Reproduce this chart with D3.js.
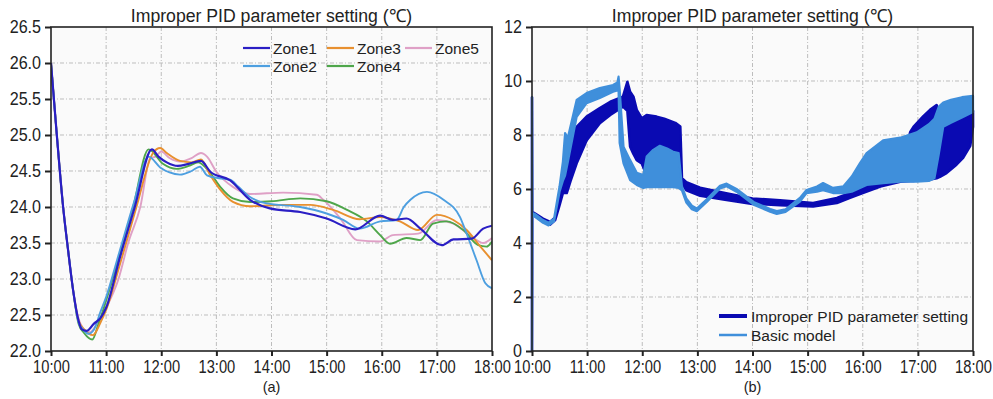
<!DOCTYPE html>
<html><head><meta charset="utf-8">
<script src="https://cdn.jsdelivr.net/npm/d3@7"></script>
<style>
body{margin:0;background:#fff;}
svg{display:block;font-family:"Liberation Sans",Arial,sans-serif;}
</style></head>
<body><svg id="c" width="993" height="399"></svg>
<script>
// ---- data (time in decimal hours) ----
const hourTicks = [10,11,12,13,14,15,16,17,18];
const hourLabels = ["10:00","11:00","12:00","13:00","14:00","15:00","16:00","17:00","18:00"];
const tempTicks = [22.0,22.5,23.0,23.5,24.0,24.5,25.0,25.5,26.0,26.5];
const diffTicks = [0,2,4,6,8,10,12];
const zoneNames = ["Zone1","Zone2","Zone3","Zone4","Zone5"];

const zone1 = [[10.0,26.0],[10.1,25.05],[10.22,24.0],[10.31,23.4],[10.4,22.85],[10.5,22.42],[10.56,22.3],[10.65,22.28],[10.78,22.38],[10.9,22.46],[11.0,22.6],[11.25,23.3],[11.52,24.0],[11.83,24.8],[11.95,24.7],[12.1,24.62],[12.3,24.57],[12.5,24.6],[12.72,24.64],[12.89,24.49],[13.25,24.37],[13.61,24.1],[13.97,23.98],[14.52,23.93],[15.0,23.84],[15.52,23.69],[15.97,23.88],[16.2,23.82],[16.45,23.84],[16.7,23.7],[17.09,23.47],[17.3,23.55],[17.63,23.56],[17.84,23.7],[18.0,23.74]];
const zone2 = [[10.0,26.0],[10.1,25.05],[10.22,24.0],[10.31,23.4],[10.4,22.85],[10.5,22.4],[10.58,22.3],[10.68,22.24],[10.78,22.3],[10.9,22.55],[11.0,22.75],[11.25,23.4],[11.5,24.05],[11.77,24.7],[11.98,24.55],[12.15,24.48],[12.34,24.45],[12.55,24.5],[12.7,24.56],[12.83,24.44],[13.05,24.4],[13.25,24.38],[13.4,24.28],[13.61,24.14],[13.91,24.05],[14.52,24.0],[15.0,23.91],[15.3,23.82],[15.6,23.7],[15.97,23.8],[16.27,23.82],[16.4,24.0],[16.52,24.1],[16.82,24.21],[17.12,24.1],[17.42,23.86],[17.54,23.63],[17.72,23.26],[17.88,22.94],[18.0,22.87]];
const zone3 = [[10.0,26.0],[10.1,25.05],[10.22,24.0],[10.31,23.4],[10.4,22.85],[10.5,22.42],[10.6,22.3],[10.76,22.22],[10.9,22.4],[11.0,22.57],[11.25,23.2],[11.55,24.0],[11.85,24.75],[11.98,24.82],[12.1,24.75],[12.34,24.64],[12.55,24.62],[12.72,24.66],[12.89,24.44],[13.07,24.24],[13.3,24.07],[13.61,24.01],[14.21,24.03],[14.7,24.03],[15.12,23.96],[15.6,23.83],[15.97,23.86],[16.33,23.8],[16.66,23.68],[17.0,23.89],[17.3,23.82],[17.54,23.68],[17.79,23.45],[18.0,23.26]];
const zone4 = [[10.0,26.0],[10.1,25.05],[10.22,24.0],[10.31,23.4],[10.4,22.85],[10.5,22.38],[10.6,22.25],[10.75,22.16],[10.85,22.35],[11.0,22.7],[11.25,23.35],[11.49,24.0],[11.77,24.8],[12.03,24.6],[12.28,24.53],[12.5,24.57],[12.67,24.62],[12.89,24.47],[13.07,24.28],[13.3,24.12],[13.61,24.07],[14.0,24.08],[14.52,24.12],[15.0,24.08],[15.37,23.96],[15.73,23.8],[15.97,23.61],[16.15,23.49],[16.45,23.57],[16.7,23.54],[16.93,23.77],[17.18,23.8],[17.48,23.68],[17.75,23.47],[17.9,23.45],[18.0,23.52]];
const zone5 = [[10.0,26.0],[10.1,25.05],[10.22,24.0],[10.31,23.4],[10.4,22.85],[10.5,22.45],[10.6,22.3],[10.7,22.26],[10.85,22.4],[11.0,22.6],[11.22,22.99],[11.4,23.5],[11.62,24.0],[11.8,24.68],[11.9,24.7],[12.0,24.77],[12.15,24.68],[12.34,24.63],[12.55,24.68],[12.72,24.75],[12.83,24.7],[13.0,24.49],[13.3,24.28],[13.61,24.18],[14.21,24.2],[14.82,24.17],[14.94,24.1],[15.25,23.84],[15.55,23.54],[15.97,23.52],[16.2,23.61],[16.66,23.63],[17.0,23.82],[17.3,23.77],[17.66,23.57],[17.84,23.5],[18.0,23.57]];

// right panel: [time, lower envelope, upper envelope] of the oscillating signal
const improperBand = [[10.0,0,9.4],[10.005,5.15,5.15],[10.05,5.0,5.1],[10.2,4.8,4.9],[10.33,4.68,4.78],[10.42,4.85,4.95],[10.5,5.4,5.6],[10.56,5.85,6.6],[10.63,5.85,7.8],[10.7,6.3,7.9],[10.81,6.95,8.3],[10.99,7.8,8.68],[11.23,8.44,9.0],[11.42,8.74,9.23],[11.65,9.05,9.42],[11.73,8.9,9.97],[11.78,7.57,9.6],[11.84,7.3,9.42],[11.9,7.07,8.93],[11.99,6.95,8.62],[12.08,6.5,8.74],[12.26,6.3,8.68],[12.4,6.2,8.6],[12.6,6.2,8.45],[12.69,6.2,8.31],[12.72,6.2,6.4],[12.8,5.95,6.25],[13.05,5.75,6.05],[13.5,5.6,5.85],[14.0,5.45,5.65],[14.5,5.4,5.58],[15.1,5.35,5.48],[15.53,5.48,5.67],[15.77,5.67,5.85],[16.0,5.85,6.04],[16.32,6.09,6.33],[16.68,6.27,6.46],[16.86,6.3,8.1],[16.92,6.3,8.3],[17.1,6.35,8.7],[17.22,6.35,8.93],[17.34,6.4,9.11],[17.4,6.45,8.4],[17.52,6.59,8.5],[17.7,6.9,8.65],[17.82,7.15,8.75],[17.95,7.6,8.85],[18.0,8.3,8.9]];
const basicBand = [[10.0,0,9.4],[10.005,5.1,5.1],[10.05,4.98,5.08],[10.2,4.75,4.85],[10.3,4.65,4.75],[10.4,4.8,4.9],[10.5,5.9,6.1],[10.56,6.3,7.0],[10.6,6.5,8.07],[10.65,7.0,7.9],[10.81,8.67,9.3],[10.99,9.18,9.55],[11.23,9.37,9.74],[11.47,9.6,9.85],[11.55,9.65,9.95],[11.57,9.7,10.16],[11.59,7.7,9.7],[11.66,6.95,7.57],[11.78,6.33,7.07],[11.9,6.15,6.6],[12.02,6.04,6.52],[12.08,6.07,7.2],[12.2,6.07,7.45],[12.32,6.07,7.6],[12.45,6.07,7.5],[12.56,6.07,7.38],[12.66,6.04,7.33],[12.72,5.95,6.1],[12.8,5.5,5.65],[12.9,5.25,5.38],[12.99,5.18,5.28],[13.17,5.52,5.62],[13.41,6.02,6.12],[13.53,6.1,6.2],[13.71,5.9,6.0],[14.02,5.42,5.52],[14.32,5.16,5.26],[14.44,5.08,5.18],[14.6,5.15,5.25],[14.86,5.53,5.67],[14.98,5.85,5.96],[15.17,5.9,6.09],[15.28,5.96,6.22],[15.46,5.85,6.04],[15.65,5.85,6.1],[15.8,5.9,6.46],[15.95,6.04,6.96],[16.07,6.15,7.33],[16.37,6.22,7.8],[16.68,6.27,7.9],[16.98,6.27,8.1],[17.2,6.3,8.4],[17.3,6.4,8.6],[17.38,7.3,9.05],[17.46,8.3,9.2],[17.6,8.45,9.3],[17.8,8.65,9.4],[18.0,8.85,9.45]];
const bandNames = ["Improper PID parameter setting","Basic model"];
const titleText = "Improper PID parameter setting (\u2103)";

// ---- drawing ----
const svg = d3.select("#c");
const zoneColors = ["#2a1ec4","#4d9fe0","#e8902f","#4ea64a","#dfa0c6"];
const bandColors = ["#0a0ab2","#3f8fdb"];

function squeeze(sel, k) {
  sel.each(function(){
    const w = this.getComputedTextLength();
    d3.select(this).attr("textLength", w*k).attr("lengthAdjust","spacingAndGlyphs");
  });
}

function panel(x0, x1, y0, y1, yDomain, yTicks, yFmt, label) {
  const g = svg.append("g");
  const x = d3.scaleLinear().domain([10,18]).range([x0,x1]);
  const y = d3.scaleLinear().domain(yDomain).range([y1,y0]);
  g.append("rect").attr("x",x0).attr("y",y0).attr("width",x1-x0).attr("height",y1-y0).attr("fill","#fafafa");
  g.append("g").selectAll("line").data(hourTicks.slice(1,-1)).join("line")
    .attr("x1",d=>x(d)).attr("x2",d=>x(d)).attr("y1",y0).attr("y2",y1)
    .attr("stroke","#bdbdbd").attr("stroke-width",1).attr("stroke-dasharray","4,2,1,2");
  g.append("g").selectAll("line").data(yTicks.slice(1,-1)).join("line")
    .attr("y1",d=>y(d)).attr("y2",d=>y(d)).attr("x1",x0).attr("x2",x1)
    .attr("stroke","#bdbdbd").attr("stroke-width",1).attr("stroke-dasharray","4,2,1,2");
  const t = svg.append("text").attr("x",(x0+x1)/2).attr("y",y0-5).attr("text-anchor","middle")
    .attr("font-size",18).attr("fill","#222").text(titleText);
  squeeze(t, 0.98);
  svg.append("text").attr("x",(x0+x1)/2).attr("y",392).attr("text-anchor","middle")
    .attr("font-size",14.5).attr("fill","#222").text(label);
  return {g,x,y,x0,x1,y0,y1,yTicks,yFmt};
}
function axes(p){
  const {g,x,y,x0,x1,y0,y1,yTicks,yFmt} = p;
  const ax = g.append("g").attr("transform",`translate(0,${y1})`)
    .call(d3.axisBottom(x).tickValues(hourTicks).tickFormat((d,i)=>hourLabels[i]).tickSize(5).tickPadding(5));
  const ay = g.append("g").attr("transform",`translate(${x0},0)`)
    .call(d3.axisLeft(y).tickValues(yTicks).tickFormat(yFmt).tickSize(6).tickPadding(4));
  [ax,ay].forEach(a=>{
    a.select(".domain").remove();
    a.selectAll(".tick line").attr("stroke","#222").attr("stroke-width",2);
    a.selectAll(".tick text").attr("font-size",17.5).attr("fill","#222").attr("font-family","Liberation Sans, Arial, sans-serif");
  });
  squeeze(ax.selectAll(".tick text"), 0.84);
  squeeze(ay.selectAll(".tick text"), 0.92);
  g.append("rect").attr("x",x0).attr("y",y0).attr("width",x1-x0).attr("height",y1-y0)
    .attr("fill","none").attr("stroke","#222").attr("stroke-width",1.6);
}

// left panel
const pa = panel(51,492,27,351,[22,26.5],tempTicks,d3.format(".1f"),"(a)");
svg.append("clipPath").attr("id","ca").append("rect").attr("x",51).attr("y",27).attr("width",441).attr("height",324);
const zones = [zone1,zone2,zone3,zone4,zone5];
const lineA = d3.line().x(d=>pa.x(d[0])).y(d=>pa.y(d[1])).curve(d3.curveMonotoneX);
[4,3,2,1,0].forEach(i=>{
  pa.g.append("path").datum(zones[i]).attr("d",lineA).attr("fill","none")
    .attr("stroke",zoneColors[i]).attr("stroke-width",i===0?2.2:1.9).attr("clip-path","url(#ca)");
});
axes(pa);
const legPos = [[243,48],[243,66],[327,48],[327,66],[405,48]];
zoneNames.forEach((n,i)=>{
  const [lx,ly] = legPos[i];
  pa.g.append("line").attr("x1",lx).attr("x2",lx+27).attr("y1",ly).attr("y2",ly)
    .attr("stroke",zoneColors[i]).attr("stroke-width",2.2);
  pa.g.append("text").attr("x",lx+30).attr("y",ly+5.5).attr("font-size",15.5).attr("fill","#222").text(n);
});

// right panel
const pb = panel(532,973,27,351,[0,12],diffTicks,d3.format("d"),"(b)");
const bands = [improperBand,basicBand];
const areaB = d3.area().x(d=>pb.x(d[0])).y0(d=>pb.y(d[1])).y1(d=>pb.y(d[2])).curve(d3.curveLinear);
bands.forEach((b,i)=>{
  pb.g.append("path").datum(b).attr("d",areaB).attr("fill",bandColors[i])
    .attr("stroke",bandColors[i]).attr("stroke-width",i===0?2.6:2.2).attr("stroke-linejoin","round");
});
axes(pb);
bandNames.forEach((n,i)=>{
  const ly = 316 + i*19;
  pb.g.append("line").attr("x1",719).attr("x2",747).attr("y1",ly).attr("y2",ly)
    .attr("stroke",bandColors[i]).attr("stroke-width",i===0?4:2.5);
  pb.g.append("text").attr("x",751).attr("y",ly+5.5).attr("font-size",15.5).attr("fill","#222").text(n);
});
</script></body></html>
